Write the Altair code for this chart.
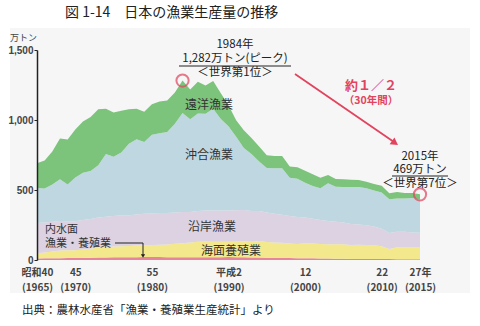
import altair as alt
import pandas as pd

# ---- data (万トン) ----
years = list(range(1965, 2016))
inland = [11, 12, 13, 13, 14,
          14, 15, 16, 17, 18, 19, 19, 20, 20, 21,
          21, 21, 20, 20, 20, 20, 20, 20, 20, 20,
          21, 20, 19, 18, 17, 16, 15, 15, 14, 13,
          13, 12, 11, 10, 9, 9, 8, 8, 8, 8,
          7, 7, 6, 6, 6, 6]
mariculture = [37, 42, 48, 55, 55,
               55, 60, 65, 72, 75, 78, 80, 80, 83, 85,
               86, 88, 90, 96, 100, 105, 110, 112, 110, 111,
               110, 112, 115, 112, 118, 113, 110, 108, 104, 101,
               106, 105, 104, 103, 104, 103, 100, 101, 100, 97,
               92, 72, 85, 87, 85, 87]
coastal = [216, 214, 212, 210, 208,
           208, 210, 212, 214, 216, 218, 220, 220, 222, 224,
           225, 227, 226, 224, 222, 218, 220, 222, 224, 222,
           222, 224, 223, 220, 215, 210, 205, 200, 196, 193,
           185, 178, 170, 165, 160, 155, 150, 145, 140, 134,
           125, 114, 110, 108, 105, 102]
offshore = [251, 242, 267, 299, 263,
            313, 339, 343, 374, 448, 422, 448, 510, 537, 513,
            563, 569, 578, 633, 708, 663, 697, 690, 726, 655,
            602, 524, 443, 407, 354, 318, 326, 333, 273, 273,
            248, 233, 227, 271, 251, 254, 264, 267, 264, 257,
            259, 241, 238, 238, 246, 238]
distant = [176, 200, 235, 290, 321,
           342, 365, 385, 399, 324, 317, 299, 246, 218, 216,
           217, 227, 225, 224, 232, 211, 227, 203, 198, 183,
           150, 118, 127, 114, 106, 92, 86, 86, 81, 83,
           86, 85, 76, 59, 54, 55, 52, 51, 47, 47,
           48, 43, 46, 40, 37, 36]

series_names = ["内水面漁業・養殖業", "海面養殖業", "沿岸漁業", "沖合漁業", "遠洋漁業"]
series_values = [inland, mariculture, coastal, offshore, distant]
series_colors = ["#e7849c", "#f3e98c", "#dcd2e2", "#bfd7e1", "#7cc37b"]

tick_years = [1965, 1970, 1980, 1990, 2000, 2010, 2015]
tick_era = ["昭和40", "45", "55", "平成2", "12", "22", "27年"]
tick_ad = ["(1965)", "(1970)", "(1980)", "(1990)", "(2000)", "(2010)", "(2015)"]
y_ticks = [0, 500, 1000, 1500]

peak_year, peak_value = [1984], [1282]
last_year, last_value = [2015], [469]

rows = []
for i, (name, vals) in enumerate(zip(series_names, series_values)):
    for y, v in zip(years, vals):
        rows.append({"year": y, "value": v, "series": name, "ord": i})
df = pd.DataFrame(rows)

FONT = "Noto Sans CJK JP"
RED = "#e2435e"

label_expr = ""
for y, a, b in zip(tick_years, tick_era, tick_ad):
    label_expr += f"datum.value == {y} ? ['{a}', '{b}'] : "
label_expr += "''"

xscale = alt.Scale(domain=[1965, 2015], nice=False, zero=False)
yscale = alt.Scale(domain=[0, 1500], nice=False)

bg = alt.Chart(pd.DataFrame({"a": [0]})).mark_rect(fill="#f6f6f6").encode(
    x=alt.value(-27), x2=alt.value(433), y=alt.value(-22), y2=alt.value(243)
)

area = alt.Chart(df).mark_area(interpolate="linear").encode(
    x=alt.X("year:Q", scale=xscale,
            axis=alt.Axis(values=tick_years, labelExpr=label_expr, domain=False,
                          ticks=False, grid=False, title=None, labelFont=FONT,
                          labelFontSize=10, labelFontWeight="bold",
                          labelLineHeight=15, labelPadding=7,
                          labelColor="#444", labelOverlap=False, labelFlush=False,
                          zindex=2)),
    y=alt.Y("value:Q", stack="zero", scale=yscale,
            axis=alt.Axis(values=y_ticks, format=",.0f", grid=False,
                          title=None, domainColor="#222", domainWidth=1.5,
                          tickColor="#222", tickSize=3, labelPadding=1,
                          labelFont="Liberation Sans", labelFontSize=10,
                          labelFontWeight="bold",
                          labelColor="#444", zindex=2)),
    color=alt.Color("series:N", scale=alt.Scale(domain=series_names, range=series_colors),
                    legend=None),
    order=alt.Order("ord:Q"),
)

circles = alt.Chart(pd.DataFrame({"year": peak_year + last_year,
                                  "value": peak_value + last_value})).mark_point(
    shape="circle", filled=False, color=RED, strokeWidth=2, size=150
).encode(x=alt.X("year:Q", scale=xscale), y=alt.Y("value:Q", scale=yscale))


def txt(s, x, y, size=11, color="#222", align="center", weight="normal"):
    return alt.Chart(pd.DataFrame({"t": [s]})).mark_text(
        font=FONT, fontSize=size, color=color, align=align, baseline="middle",
        fontWeight=weight
    ).encode(text="t:N", x=alt.value(x), y=alt.value(y))


def line(x1, y1, x2, y2, color="#222", w=1.0):
    return alt.Chart(pd.DataFrame({"a": [0]})).mark_rule(color=color, strokeWidth=w).encode(
        x=alt.value(x1), y=alt.value(y1), x2=alt.value(x2), y2=alt.value(y2)
    )


def head(x, y, shape, angle, color, size):
    return alt.Chart(pd.DataFrame({"a": [0]})).mark_point(
        shape=shape, filled=True, color=color, size=size, angle=angle, opacity=1
    ).encode(x=alt.value(x), y=alt.value(y))


layers = [
    bg, area, circles,
    txt("図 1-14　日本の漁業生産量の推移", 28, -37, size=14, align="left"),
    txt("万トン", -27, -12, size=9, align="left", color="#444"),
    txt("出典：農林水産省「漁業・養殖業生産統計」より", -15, 261, size=11.5, align="left"),
    txt("1984年", 198, -5, size=11.5),
    txt("1,282万トン(ピーク)", 198, 9, size=11.5),
    line(142, 16, 254, 16, w=1),
    txt("＜世界第1位＞", 198, 23, size=11.5),
    line(258, 24, 357, 92, color=RED, w=1.8),
    head(358, 93, "triangle-right", 35, RED, 70),
    txt("約１／２", 334, 36, size=13, color=RED, weight="bold"),
    txt("（30年間）", 334, 51, size=10.5, color=RED, weight="bold"),
    txt("2015年", 383, 107, size=11.5),
    txt("469万トン", 383, 120, size=11.5),
    line(355, 126, 411, 126, w=1),
    txt("＜世界第7位＞", 383, 134, size=11.5),
    txt("遠洋漁業", 172, 55, size=12, color="#333"),
    txt("沖合漁業", 172, 105, size=12, color="#333"),
    txt("沿岸漁業", 175, 177, size=12, color="#333"),
    txt("海面養殖業", 194, 201, size=12, color="#333"),
    txt("内水面", 8, 180, size=11, color="#333", align="left"),
    txt("漁業・養殖業", 8, 194, size=11, color="#333", align="left"),
    line(78, 193, 106, 193, w=1),
    line(106, 193, 106, 205, w=1),
    head(106, 206, "triangle-down", 0, "#222", 18),
]

chart = alt.layer(*layers).properties(
    width=383, height=210, autosize="none",
    padding={"left": 37, "top": 50, "right": 60, "bottom": 66},
    background="white",
).configure_view(stroke=None)

chart.save("out.html", embed_options={"renderer": "svg", "actions": False})
